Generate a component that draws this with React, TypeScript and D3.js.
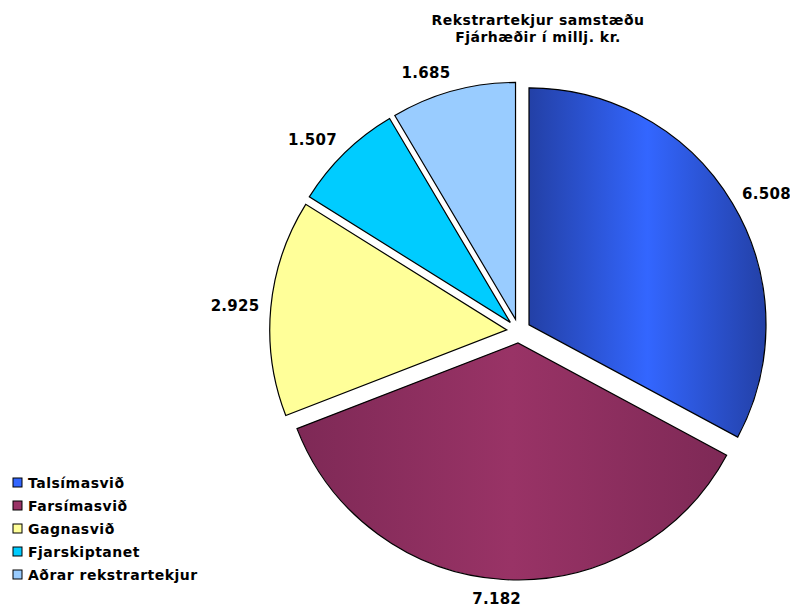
import React from "react";
import * as d3 from "d3";

const categories = ["Talsímasvið", "Farsímasvið", "Gagnasvið", "Fjarskiptanet", "Aðrar rekstrartekjur"];
const values = [6508, 7182, 2925, 1507, 1685];
const valueLabels = ["6.508", "7.182", "2.925", "1.507", "1.685"];
const titleLines = ["Rekstrartekjur samstæðu", "Fjárhæðir í millj. kr."];

const fills = [
  { edge: "#2340A6", mid: "#3366FF", gradient: true },
  { edge: "#7E2956", mid: "#993366", gradient: true },
  { edge: "#FFFF99", mid: "#FFFF99", gradient: false },
  { edge: "#00CCFF", mid: "#00CCFF", gradient: false },
  { edge: "#99CCFF", mid: "#99CCFF", gradient: false },
];

const W = 790;
const H = 608;
const cx = 518.7;
const cy = 331;
const R = 237;
const explode = 12;
const labelGap = 12;
const FONT = "'DejaVu Sans', Verdana, sans-serif";

export default function App() {
  const pie = d3.pie<number>().sort(null).value((d) => d)(values);
  const arc = d3.arc<d3.PieArcDatum<number>>().innerRadius(0).outerRadius(R);
  const labelFont = 15;

  return (
    <svg
      width={W}
      height={H}
      style={{ position: "fixed", left: 0, top: 0, background: "#fff" }}
      fontFamily={FONT}
    >
      <defs>
        {fills.map((f, i) => (
          <linearGradient key={i} id={`g${i}`} x1="0" y1="0" x2="1" y2="0">
            <stop offset="0" stopColor={f.edge} />
            <stop offset="0.5" stopColor={f.mid} />
            <stop offset="1" stopColor={f.edge} />
          </linearGradient>
        ))}
      </defs>
      <rect x={0} y={0} width={W} height={H} fill="#fff" />
      {titleLines.map((t, i) => (
        <text
          key={t}
          x={538}
          y={25 + i * 17}
          textAnchor="middle"
          fontSize={14}
          letterSpacing={0.5}
          fontWeight="bold"
          fill="#000"
        >
          {t}
        </text>
      ))}
      {pie.map((p, i) => {
        const mid = (p.startAngle + p.endAngle) / 2;
        const dx = Math.sin(mid);
        const dy = -Math.cos(mid);
        const sx = cx + dx * explode;
        const sy = cy + dy * explode;
        const lw = valueLabels[i].length * 9.5;
        const lh = 14;
        const fx = Math.max(-1, Math.min(1, dx * 4));
        const lx = sx + dx * (R + labelGap) + (fx * lw) / 2;
        const ly = sy + dy * (R + labelGap) + (dy * lh) / 2;
        return (
          <g key={categories[i]}>
            <path
              d={arc(p) || ""}
              transform={`translate(${sx},${sy})`}
              fill={fills[i].gradient ? `url(#g${i})` : fills[i].mid}
              stroke="#000"
              strokeWidth={1.2}
            />
            <text
              x={lx}
              y={ly}
              dy="0.36em"
              textAnchor="middle"
              fontSize={labelFont}
              letterSpacing={0.3}
              fontWeight="bold"
              fill="#000"
            >
              {valueLabels[i]}
            </text>
          </g>
        );
      })}
      {categories.map((c, i) => (
        <g key={c} transform={`translate(13, ${478 + i * 23})`}>
          <rect x={0} y={0} width={9} height={9} fill={fills[i].mid} stroke="#000" strokeWidth={1} />
          <text x={15} y={9.5} fontSize={14} letterSpacing={0.5} fontWeight="bold" fill="#000">
            {c}
          </text>
        </g>
      ))}
    </svg>
  );
}
